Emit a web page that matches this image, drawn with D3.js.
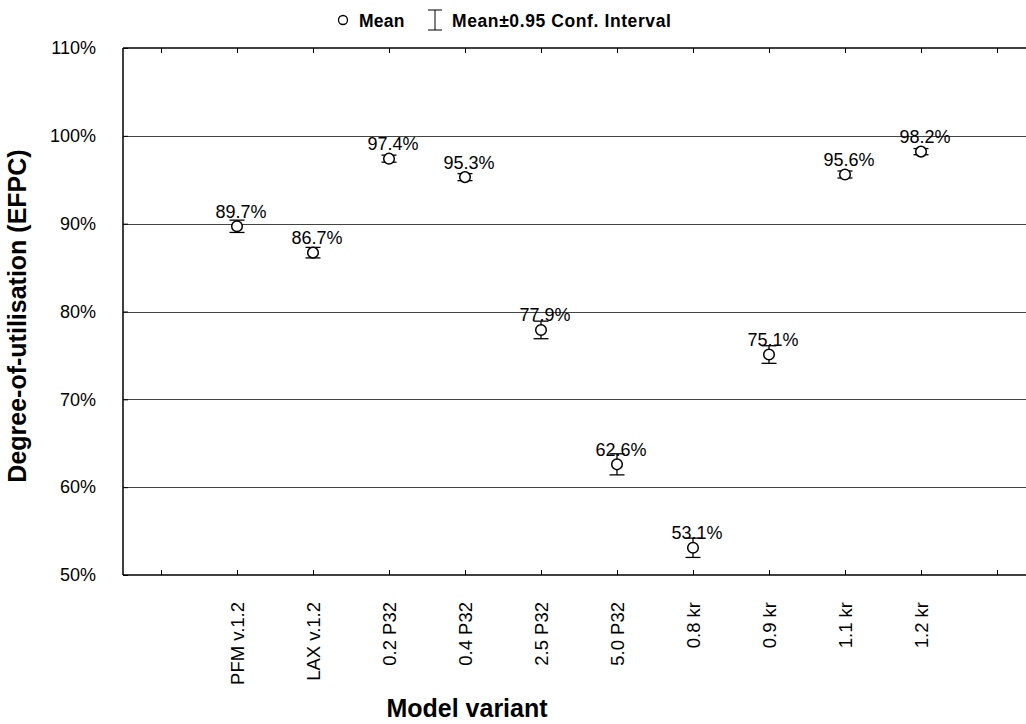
<!DOCTYPE html>
<html>
<head>
<meta charset="utf-8">
<script src="https://cdn.jsdelivr.net/npm/d3@7"></script>
<style>
  html, body { margin: 0; padding: 0; background: #fff; }
  svg { display: block; font-family: "Liberation Sans", Arial, Helvetica, sans-serif; }
</style>
</head>
<body>
<svg id="chart" width="1026" height="724"></svg>
<script>
// Model variants (first and last slots are empty axis positions)
const categories = ["PFM v.1.2", "LAX v.1.2", "0.2 P32", "0.4 P32", "2.5 P32",
                    "5.0 P32", "0.8 kr", "0.9 kr", "1.1 kr", "1.2 kr"];
// Mean degree-of-utilisation (%)
const means = [89.7, 86.7, 97.4, 95.3, 77.9, 62.6, 53.1, 75.1, 95.6, 98.2];
// Half-width of the 0.95 confidence interval (%)
const ciHalf = [0.7, 0.6, 0.4, 0.4, 1.0, 1.2, 1.1, 1.0, 0.4, 0.35];
// Y-axis tick values (%)
const yTicks = [50, 60, 70, 80, 90, 100, 110];

const svg = d3.select("#chart");
const margin = { left: 123, top: 48, right: 1035, bottom: 575 };

const slots = ["_start", ...categories, "_end"];
const x = d3.scalePoint().domain(slots).range([margin.left, margin.right]).padding(0.5);
const y = d3.scaleLinear().domain([50, 110]).range([margin.bottom, margin.top]);

const data = categories.map((c, i) => ({ cat: c, mean: means[i], ci: ciHalf[i] }));

// Horizontal grid lines
svg.append("g")
  .selectAll("line")
  .data(yTicks.filter(t => t > 50 && t < 110))
  .join("line")
  .attr("x1", margin.left).attr("x2", margin.right)
  .attr("y1", d => Math.round(y(d)) + 0.5).attr("y2", d => Math.round(y(d)) + 0.5)
  .attr("stroke", "#444").attr("stroke-width", 1);

// Frame: left, top, bottom
const frame = svg.append("g").attr("stroke", "#000").attr("stroke-width", 1.5).attr("fill", "none");
frame.append("line").attr("x1", margin.left).attr("x2", margin.left)
  .attr("y1", margin.top).attr("y2", margin.bottom);
frame.append("line").attr("x1", margin.left).attr("x2", margin.right)
  .attr("y1", margin.top).attr("y2", margin.top);
frame.append("line").attr("x1", margin.left).attr("x2", margin.right)
  .attr("y1", margin.bottom).attr("y2", margin.bottom);

// Bottom axis (ticks pointing inward)
const xAxis = d3.axisBottom(x).tickSize(-5).tickSizeOuter(0).tickPadding(0)
  .tickFormat(d => d.startsWith("_") ? "" : d);
const gx = svg.append("g").attr("transform", `translate(0,${margin.bottom})`).call(xAxis);
gx.select(".domain").remove();
gx.selectAll(".tick line").attr("stroke", "#000").attr("stroke-width", 1);
gx.selectAll(".tick text")
  .attr("font-size", 18.5).attr("fill", "#000")
  .attr("text-anchor", "end")
  .attr("transform", "translate(0,27) rotate(-90)")
  .attr("x", 0).attr("y", 0).attr("dy", "0.35em");

// Top axis ticks (inward)
const gxt = svg.append("g").attr("transform", `translate(0,${margin.top})`)
  .call(d3.axisTop(x).tickSize(-5).tickSizeOuter(0).tickFormat(""));
gxt.select(".domain").remove();
gxt.selectAll(".tick line").attr("stroke", "#000");

// Left axis (ticks inward)
const gy = svg.append("g").attr("transform", `translate(${margin.left},0)`)
  .call(d3.axisLeft(y).tickValues(yTicks).tickSize(-5).tickPadding(27).tickFormat(d => d + "%"));
gy.select(".domain").remove();
gy.selectAll(".tick line").attr("stroke", "#000");
gy.selectAll(".tick text").attr("font-size", 18).attr("fill", "#000");

// Confidence interval whiskers
const capHalf = 7.5;
const eb = svg.append("g").attr("stroke", "#000").attr("stroke-width", 1.3);
data.forEach(d => {
  const cx = x(d.cat);
  eb.append("line").attr("x1", cx).attr("x2", cx).attr("y1", y(d.mean + d.ci)).attr("y2", y(d.mean - d.ci));
  eb.append("line").attr("x1", cx - capHalf).attr("x2", cx + capHalf).attr("y1", y(d.mean + d.ci)).attr("y2", y(d.mean + d.ci));
  eb.append("line").attr("x1", cx - capHalf).attr("x2", cx + capHalf).attr("y1", y(d.mean - d.ci)).attr("y2", y(d.mean - d.ci));
});

// Mean markers
svg.append("g").selectAll("circle").data(data).join("circle")
  .attr("cx", d => x(d.cat)).attr("cy", d => y(d.mean)).attr("r", 5.3)
  .attr("fill", "#fff").attr("stroke", "#000").attr("stroke-width", 1.5);

// Value labels
svg.append("g").selectAll("text").data(data).join("text")
  .attr("x", d => x(d.cat) + 4).attr("y", d => y(d.mean) - 8.5)
  .attr("text-anchor", "middle").attr("font-size", 18).attr("fill", "#000")
  .text(d => d.mean.toFixed(1) + "%");

// Axis titles
svg.append("text")
  .attr("transform", `translate(26,316) rotate(-90)`)
  .attr("text-anchor", "middle").attr("font-size", 25).attr("font-weight", "bold")
  .text("Degree-of-utilisation (EFPC)");
svg.append("text")
  .attr("x", 467).attr("y", 717)
  .attr("text-anchor", "middle").attr("font-size", 25).attr("font-weight", "bold")
  .text("Model variant");

// Legend
const lg = svg.append("g");
lg.append("circle").attr("cx", 343).attr("cy", 20).attr("r", 4.5)
  .attr("fill", "#fff").attr("stroke", "#000").attr("stroke-width", 1.3);
lg.append("text").attr("x", 359).attr("y", 27).attr("font-size", 17.5).attr("font-weight", "bold")
  .attr("letter-spacing", 0.2).text("Mean");
const li = lg.append("g").attr("stroke", "#000").attr("stroke-width", 1);
li.append("line").attr("x1", 435).attr("x2", 435).attr("y1", 10).attr("y2", 30);
li.append("line").attr("x1", 428).attr("x2", 442).attr("y1", 10).attr("y2", 10);
li.append("line").attr("x1", 428).attr("x2", 442).attr("y1", 30).attr("y2", 30);
lg.append("text").attr("x", 452).attr("y", 27).attr("font-size", 17.5).attr("font-weight", "bold")
  .attr("letter-spacing", 0.6).text("Mean±0.95 Conf. Interval");
</script>
</body>
</html>
